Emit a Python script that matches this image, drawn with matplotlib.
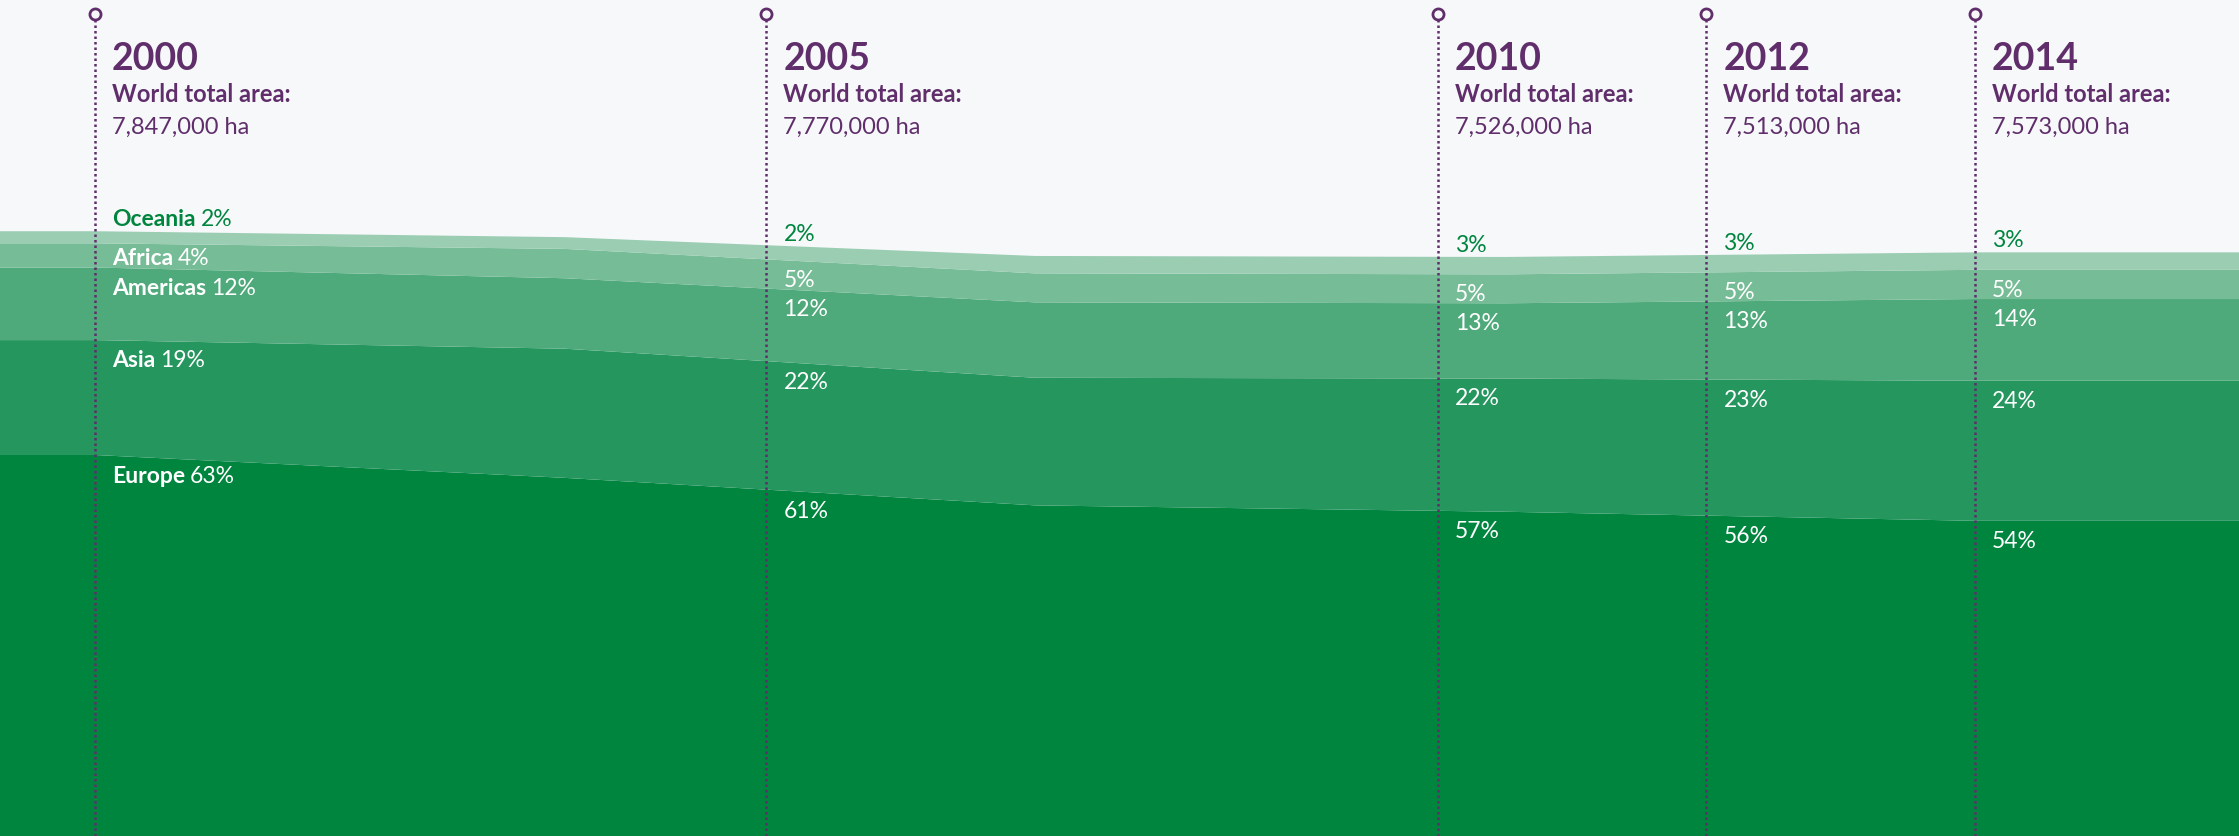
import matplotlib.pyplot as plt
import numpy as np

# Données : surface mondiale (ha) et part de chaque région (%)
years = [2000, 2005, 2010, 2012, 2014]
total_area = [7847000, 7770000, 7526000, 7513000, 7573000]
regions = ["Europe", "Asia", "Americas", "Africa", "Oceania"]
europe = [63, 61, 57, 56, 54]
asia = [19, 22, 22, 23, 24]
americas = [12, 12, 13, 13, 14]
africa = [4, 5, 5, 5, 5]
oceania = [2, 2, 3, 3, 3]

W, H = 2239, 837
bg = "#F7F8FA"
purple = "#5F2E6B"
greens = ["#00853F", "#26965F", "#4EAA7A", "#76BC97", "#9BCDB3"]

plt.rcParams['font.family'] = ['Lato', 'DejaVu Sans']

fig = plt.figure(figsize=(W / 100, H / 100), dpi=100, facecolor=bg)
ax = fig.add_axes([0, 0, 1, 1])
ax.set_facecolor(bg)
ax.axis('off')

# axe des x en années : 2000 et 2014 aux extrémités des repères
pxYear = 134.29
x0px = 95
ax.set_xlim(2000 - x0px / pxYear, 2000 + (W - x0px) / pxYear)
ax.set_ylim(0, 10.86e6)
xmin, xmax = ax.get_xlim()

# les couches sont posées sur des positions régulières entre 2000 et 2014
xs = np.linspace(years[0], years[-1], len(years))
xs_ext = np.concatenate([[xmin], xs, [xmax]])

shares = np.array([europe, asia, americas, africa, oceania], dtype=float)
shares = shares / shares.sum(axis=0)
layers = shares * np.array(total_area)
layers_ext = np.hstack([layers[:, :1], layers, layers[:, -1:]])

ax.stackplot(xs_ext, layers_ext, colors=greens, linewidth=0, zorder=1)
tops = np.cumsum(layers_ext, axis=0)

def fy(py):
    return 1 - py / H

pcts = [europe, asia, americas, africa, oceania]
trans = ax.get_xaxis_transform()
for j, yr in enumerate(years):
    ax.plot([yr, yr], [0, fy(21)], transform=trans, color=purple,
            lw=1.8, ls=(0, (1, 1.2)), zorder=3)
    ax.plot([yr], [fy(15)], transform=trans, marker='o',
            ms=8, mfc=bg, mec=purple, mew=2, zorder=4, clip_on=False)

    lx = yr + 17 / pxYear
    ax.text(lx, fy(70), str(yr), transform=trans, fontsize=27, fontweight='bold',
            color=purple, va='baseline')
    ax.text(lx, fy(102), "World total area:", transform=trans, fontsize=17,
            fontweight='bold', color=purple, va='baseline')
    ax.text(lx, fy(134), "{:,} ha".format(total_area[j]), transform=trans,
            fontsize=17, color=purple, va='baseline')

    for i in range(len(regions)):
        ytop = np.interp(lx, xs_ext, tops[i])
        if i == len(regions) - 1:
            col, dy = greens[0], 6
        else:
            col, dy = "white", -26
        if j == 0 and i == 3:
            dy = -20
        pct = "{}%".format(pcts[i][j])
        if j == 0:
            name = ax.annotate(regions[i], xy=(lx, ytop), xytext=(0, dy),
                               textcoords='offset pixels', fontsize=16.5,
                               fontweight='bold', color=col, va='baseline', zorder=5)
            ax.annotate(pct, xy=(1, 0), xycoords=name, xytext=(5, 0),
                        textcoords='offset pixels', fontsize=16.5, color=col,
                        va='bottom', zorder=5)
        else:
            ax.annotate(pct, xy=(lx, ytop), xytext=(0, dy),
                        textcoords='offset pixels', fontsize=16.5, color=col,
                        va='baseline', zorder=5)

fig.savefig("out.png", dpi=100, facecolor=bg)
